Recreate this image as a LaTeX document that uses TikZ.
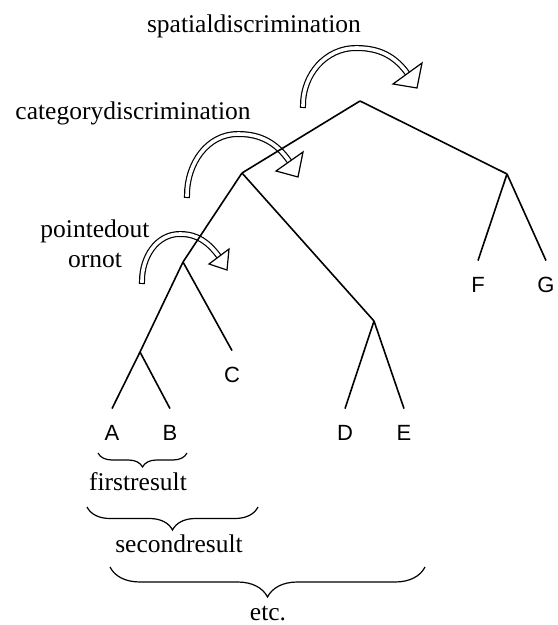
\documentclass[tikz,border=0pt]{standalone}
\usepackage{fontspec}
\setmainfont{Liberation Serif}
\setsansfont{Liberation Sans}
\usetikzlibrary{decorations.pathreplacing}

\tikzset{
  treeline/.style={line width=0.8pt},
  leaf/.style={font=\sffamily\fontsize{11}{13}\selectfont, minimum height=24pt, inner sep=0pt},
  note/.style={font=\fontsize{12.75}{15}\selectfont, inner sep=0pt, anchor=base},
  bendarrow/.style={double, line width=0.6pt, double distance=1.8pt, line cap=rect},
  bendhead/.style={draw, fill=white, line width=0.6pt, line join=miter},
  groupbrace/.style={decorate, line width=0.6pt, decoration={brace, mirror, amplitude=#1}},
}

\begin{document}
\begin{tikzpicture}[x=0.5pt,y=0.5pt]
\useasboundingbox (0,0) rectangle (557,-625);
% Branching points
\coordinate (root) at (360,-101);
\coordinate (left) at (242,-173);
\coordinate (right) at (507,-174);
\coordinate (lleft) at (183,-262);
\coordinate (lright) at (374,-321);
\coordinate (ab) at (140,-352);
% Leaves
\foreach \n/\t/\x/\y in {a/A/112/433, b/B/170/433, c/C/232/375, d/D/345/433, e/E/404/433, f/F/478/285, g/G/546/285}
  {\node[leaf] (\n) at (\x,-\y) {\t};}
% Curved arrows
\draw[bendarrow] (303,-105) to[out=90,in=180] (356,-48) to[out=0,in=126] (407.5,-73.5);
\draw[bendhead] (393,-84) -- (422,-63) -- (417,-88) -- cycle;
\draw[bendarrow] (187,-195) to[out=90,in=180] (238,-134) to[out=0,in=125] (289.5,-161.5);
\draw[bendhead] (276,-171) -- (303,-152) -- (298,-177) -- cycle;
\draw[bendarrow] (142,-281) to[out=90,in=180] (180,-234) to[out=0,in=127] (219,-256.5);
\draw[bendhead] (209,-264) -- (229,-249) -- (227,-270) -- cycle;
% Tree
\foreach \p/\q in {root/left, root/right, left/lleft, left/lright, lleft/ab}
  {\draw[treeline] (\p) -- (\q);}
\foreach \p/\q in {lleft/c, ab/a, ab/b, lright/d, lright/e, right/f, right/g}
  {\draw[treeline] (\p) -- (\q.north);}
% Labels
\node[note] (spatial) at (254,-33) {spatialdiscrimination};
\node[note] (category) at (133,-120) {categorydiscrimination};
\node[note, anchor=center, align=center] (pointed) at (95,-244) {pointedout\\ornot};
% Braces
\draw[groupbrace=7pt] (98,-453) -- (187,-453);
\draw[groupbrace=11.5pt] (87,-507) -- (258,-507);
\draw[groupbrace=15pt] (110,-567) -- (425,-567);
\node[note] (first) at (138,-490) {firstresult};
\node[note] (second) at (179,-552) {secondresult};
\node[note] (etcnote) at (268,-620) {etc.};
\end{tikzpicture}
\end{document}
